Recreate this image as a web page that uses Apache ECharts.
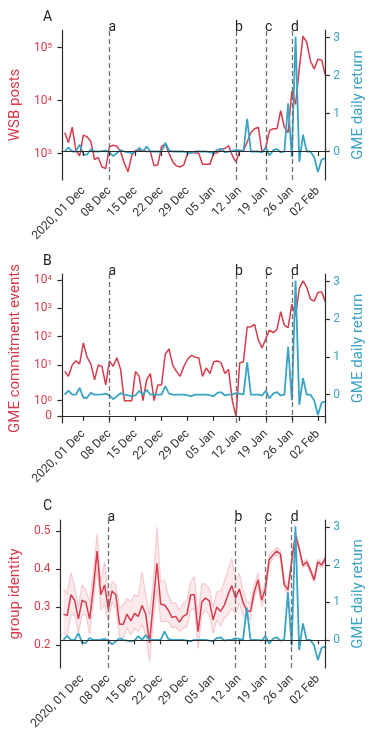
<!DOCTYPE html>
<html lang="en">
<head>
<meta charset="UTF-8">
<title>WSB / GME</title>
<script src="https://cdn.jsdelivr.net/npm/echarts@6/dist/echarts.min.js"></script>
<style>
  html, body { margin: 0; padding: 0; background: #fff; }
  #main { width: 374px; height: 744px; }
</style>
</head>
<body>
<div id="main"></div>
<script>
// days shown, one point each
const dates = [
  '2020-11-26','2020-11-27','2020-11-28','2020-11-29','2020-11-30',
  '2020-12-01','2020-12-02','2020-12-03','2020-12-04','2020-12-05','2020-12-06','2020-12-07',
  '2020-12-08','2020-12-09','2020-12-10','2020-12-11','2020-12-12','2020-12-13','2020-12-14',
  '2020-12-15','2020-12-16','2020-12-17','2020-12-18','2020-12-19','2020-12-20','2020-12-21',
  '2020-12-22','2020-12-23','2020-12-24','2020-12-25','2020-12-26','2020-12-27','2020-12-28',
  '2020-12-29','2020-12-30','2020-12-31','2021-01-01','2021-01-02','2021-01-03','2021-01-04',
  '2021-01-05','2021-01-06','2021-01-07','2021-01-08','2021-01-09','2021-01-10','2021-01-11',
  '2021-01-12','2021-01-13','2021-01-14','2021-01-15','2021-01-16','2021-01-17','2021-01-18',
  '2021-01-19','2021-01-20','2021-01-21','2021-01-22','2021-01-23','2021-01-24','2021-01-25',
  '2021-01-26','2021-01-27','2021-01-28','2021-01-29','2021-01-30','2021-01-31',
  '2021-02-01','2021-02-02','2021-02-03','2021-02-04'
];
const wsbPosts = [
  2510, 1620, 3160, 1150, 910,
  2240, 2090, 1700, 776, 851, 562, 525,
  1350, 1445, 1380, 1096, 661, 457, 933,
  1148, 1175, 1148, 1096, 1096, 589, 617,
  1380, 1514, 1023, 708, 589, 562, 617,
  1023, 1047, 1047, 1023, 631, 631, 631,
  1023, 1047, 1202, 1259, 1413, 933, 692,
  1148, 1148, 1660, 2510, 2950, 3160, 1050,
  1320, 2750, 2950, 2950, 6460, 3160, 2510,
  15140, 8510, 39810, 165960, 125890, 56230,
  39810, 60260, 58880, 30200
];
const commitEvents = [
  6, 4, 10, 14, 11,
  60, 19, 11, 3, 10, 9, 2,
  14, 9, 18, 7, 1, 1, 1,
  6, 4, 1, 3, 5, 1, 2,
  2, 24, 37, 10, 6, 4, 9,
  16, 22, 19, 18, 4, 8, 5,
  13, 14, 12, 5, 7, 1, 0,
  12, 13, 220, 220, 270, 76, 40,
  85, 170, 140, 180, 760, 250, 210,
  1400, 550, 5000, 9300, 5500, 2100,
  1800, 3600, 3800, 1700
];
const groupIdentity = [
  0.281, 0.277, 0.332, 0.318, 0.268,
  0.318, 0.312, 0.268, 0.350, 0.447, 0.332, 0.358,
  0.294, 0.342, 0.332, 0.254, 0.254, 0.281, 0.263,
  0.283, 0.275, 0.304, 0.281, 0.205, 0.310, 0.415,
  0.307, 0.305, 0.292, 0.272, 0.275, 0.260, 0.275,
  0.281, 0.332, 0.332, 0.235, 0.314, 0.323, 0.316,
  0.266, 0.300, 0.288, 0.305, 0.332, 0.356, 0.323,
  0.347, 0.312, 0.290, 0.288, 0.340, 0.371, 0.318,
  0.349, 0.425, 0.437, 0.447, 0.439, 0.360, 0.345,
  0.420, 0.491, 0.454, 0.409, 0.419, 0.397,
  0.371, 0.419, 0.410, 0.428
];
const identityLow = [
  0.235, 0.222, 0.279, 0.279, 0.231,
  0.279, 0.280, 0.226, 0.310, 0.402, 0.292, 0.305,
  0.261, 0.314, 0.296, 0.222, 0.218, 0.244, 0.226,
  0.244, 0.235, 0.253, 0.226, 0.156, 0.260, 0.349,
  0.261, 0.261, 0.261, 0.244, 0.248, 0.235, 0.244,
  0.248, 0.292, 0.296, 0.190, 0.279, 0.290, 0.279,
  0.230, 0.266, 0.250, 0.270, 0.280, 0.296, 0.280,
  0.310, 0.279, 0.268, 0.266, 0.323, 0.354, 0.300,
  0.332, 0.412, 0.426, 0.437, 0.429, 0.348, 0.333,
  0.410, 0.484, 0.447, 0.402, 0.412, 0.390,
  0.364, 0.412, 0.403, 0.421
];
const identityHigh = [
  0.347, 0.336, 0.391, 0.353, 0.300,
  0.358, 0.345, 0.314, 0.390, 0.494, 0.367, 0.419,
  0.323, 0.367, 0.358, 0.296, 0.305, 0.323, 0.314,
  0.332, 0.327, 0.393, 0.332, 0.279, 0.367, 0.511,
  0.367, 0.371, 0.332, 0.310, 0.310, 0.292, 0.310,
  0.318, 0.367, 0.380, 0.279, 0.362, 0.360, 0.349,
  0.300, 0.340, 0.340, 0.367, 0.397, 0.428, 0.367,
  0.389, 0.345, 0.314, 0.310, 0.358, 0.389, 0.336,
  0.367, 0.439, 0.448, 0.457, 0.449, 0.372, 0.357,
  0.430, 0.498, 0.461, 0.416, 0.426, 0.404,
  0.378, 0.426, 0.417, 0.435
];
const gmeReturn = [
  0, 0.11, 0, 0, 0.18,
  -0.08, -0.08, 0.05, 0, 0, 0.01, 0.03,
  -0.02, -0.12, -0.04, 0.04, 0, -0.02, -0.04,
  -0.02, 0.10, 0, 0.13, 0, 0, 0,
  0, 0.23, 0.03, 0, 0, 0, 0,
  -0.02, -0.04, 0, 0, 0, 0, -0.02,
  -0.04, 0.05, 0.07, -0.02, 0, 0.01, 0.04,
  0.03, 0, 0.86, 0, 0, 0, -0.02,
  0.10, -0.10, 0.03, 0.07, -0.02, 0, 1.27,
  -0.15, 3.03, -0.27, 0.44, 0, 0,
  -0.15, -0.54, -0.21, -0.18
];
const tickDates = ['2020-12-01','2020-12-08','2020-12-15','2020-12-22','2020-12-29',
                   '2021-01-05','2021-01-12','2021-01-19','2021-01-26','2021-02-02'];
const tickLabels = ['2020, 01 Dec','08 Dec','15 Dec','22 Dec','29 Dec',
                    '05 Jan','12 Jan','19 Jan','26 Jan','02 Feb'];
const eventDates = ['2020-12-08','2021-01-11','2021-01-19','2021-01-26'];
const eventLabels = ['a','b','c','d'];
const panelLabels = ['A','B','C'];
const leftNames = ['WSB posts','GME commitment events','group identity'];

const red = '#d63b4c', teal = '#3ba3c4', ink = '#2b2b2b';
const font = 'Roboto';
const DAY = 864e5;
const ts = s => { const p = s.split('-'); return Date.UTC(+p[0], +p[1] - 1, +p[2]); };
const xs = dates.map(ts);
const tickTs = tickDates.map(ts);
const pairs = arr => arr.map((v, i) => [xs[i], v]);

// matplotlib-like symlog (linthresh 2, linscale 1), in decades
const symlog = v => v <= 2 ? v / 1.8 : 1 / 0.9 + Math.log10(v / 2);
const symTicks = [0, 1, 10, 100, 1000, 10000];

const grids = [
  {left: 58, width: 269, top: 30, height: 150},
  {left: 58, width: 269, top: 274, height: 149},
  {left: 58, width: 269, top: 520, height: 148}
];

function nearest(list, v) {
  let k = 0;
  list.forEach((t, i) => { if (Math.abs(t - v) < Math.abs(list[k] - v)) k = i; });
  return k;
}
const supLabel = (exp) => '{b|10}{s|' + exp + '}';
const richRed = {
  b: {fontSize: 12, color: red, fontFamily: font},
  s: {fontSize: 8, color: red, fontFamily: font, verticalAlign: 'top', lineHeight: 8}
};

const axisLineStyle = {color: ink, width: 1.2};

const xAxes = grids.map((g, i) => ({
  type: 'value', gridIndex: i, z: 10,
  min: ts('2020-11-25') + 0.23 * DAY, max: ts('2021-02-04'),
  axisLine: {show: true, lineStyle: axisLineStyle},
  axisTick: {show: true, length: 4.5, lineStyle: axisLineStyle, customValues: tickTs},
  axisLabel: {
    customValues: tickTs, rotate: 45, margin: 9, fontSize: 12, color: '#333', fontFamily: font,
    formatter: v => tickLabels[nearest(tickTs, v)]
  },
  splitLine: {show: false}
}));

function leftAxis(i) {
  const base = {
    gridIndex: i, position: 'left', z: 10,
    name: leftNames[i], nameLocation: 'middle', nameGap: 36, nameRotate: 90,
    nameTextStyle: {color: red, fontSize: 15, fontFamily: font},
    axisLine: {show: true, lineStyle: axisLineStyle},
    axisTick: {show: true, length: 4.5, lineStyle: axisLineStyle},
    splitLine: {show: false}
  };
  if (i === 0) {
    return Object.assign(base, {
      type: 'log', logBase: 10, min: 319, max: 215800,
      axisTick: Object.assign({}, base.axisTick, {customValues: [1000, 10000, 100000]}),
      axisLabel: {customValues: [1000, 10000, 100000], margin: 10, rich: richRed,
        formatter: v => supLabel(Math.round(Math.log10(v)))}
    });
  }
  if (i === 1) {
    const pos = symTicks.map(symlog);
    return Object.assign(base, {
      type: 'value', min: -0.232, max: 5.02,
      axisTick: Object.assign({}, base.axisTick, {customValues: pos}),
      axisLabel: {customValues: pos, margin: 10, rich: richRed,
        formatter: v => { const k = nearest(pos, v); return k === 0 ? '{b|0}' : supLabel(k - 1); }}
    });
  }
  return Object.assign(base, {
    type: 'value', min: 0.139, max: 0.529,
    axisTick: Object.assign({}, base.axisTick, {customValues: [0.2, 0.3, 0.4, 0.5]}),
    axisLabel: {customValues: [0.2, 0.3, 0.4, 0.5], margin: 10, fontSize: 12, color: red, fontFamily: font,
      formatter: v => v.toFixed(1)}
  });
}

function rightAxis(i) {
  return {
    type: 'value', gridIndex: i, position: 'right', min: -0.75, max: 3.2, z: 10,
    name: 'GME daily return', nameLocation: 'middle', nameGap: 23, nameRotate: 90,
    nameTextStyle: {color: teal, fontSize: 15, fontFamily: font},
    axisLine: {show: true, lineStyle: axisLineStyle},
    axisTick: {show: true, length: 4.5, lineStyle: axisLineStyle, customValues: [0, 1, 2, 3]},
    axisLabel: {customValues: [0, 1, 2, 3], margin: 8, fontSize: 12, color: teal, fontFamily: font},
    splitLine: {show: false}
  };
}

const yAxes = [];
grids.forEach((g, i) => { yAxes.push(leftAxis(i)); yAxes.push(rightAxis(i)); });

const events = {
  silent: true, symbol: 'none', animation: false,
  lineStyle: {color: '#707070', type: [5, 3], width: 1.3},
  label: {show: true, position: 'end', formatter: '{b}', color: '#222', fontSize: 14,
          fontFamily: font, padding: [0, 0, 0, 6], distance: -4},
  data: eventDates.map((d, i) => ({xAxis: ts(d), name: eventLabels[i]}))
};

const redLine = (i, data) => ({
  type: 'line', xAxisIndex: i, yAxisIndex: i * 2, data: data,
  showSymbol: false, lineStyle: {color: red, width: 1.5}, itemStyle: {color: red}, z: 3
});
const tealLine = i => ({
  type: 'line', xAxisIndex: i, yAxisIndex: i * 2 + 1, data: pairs(gmeReturn),
  showSymbol: false, lineStyle: {color: teal, width: 1.8}, itemStyle: {color: teal}, z: 4,
  markLine: events
});

// confidence band: pink fill under the upper bound, then white fill under the lower bound
const series = [
  redLine(0, pairs(wsbPosts)),
  tealLine(0),
  redLine(1, pairs(commitEvents.map(symlog))),
  tealLine(1),
  {
    type: 'line', xAxisIndex: 2, yAxisIndex: 4, data: pairs(identityHigh),
    showSymbol: false, lineStyle: {color: 'rgba(214,59,76,0.22)', width: 1.2},
    areaStyle: {color: 'rgba(214,59,76,0.15)', origin: 'start'}, z: 1
  },
  {
    type: 'line', xAxisIndex: 2, yAxisIndex: 4, data: pairs(identityLow),
    showSymbol: false, lineStyle: {color: 'rgba(214,59,76,0.22)', width: 1.2},
    areaStyle: {color: '#fff', opacity: 1, origin: 'start'}, z: 1
  },
  redLine(2, pairs(groupIdentity)),
  tealLine(2)
];

const chart = echarts.init(document.getElementById('main'));
chart.setOption({
  animation: false,
  backgroundColor: '#fff',
  textStyle: {fontFamily: font},
  title: panelLabels.map((t, i) => ({
    text: t, left: 43, top: [10, 254, 499][i], padding: 0,
    textStyle: {fontSize: 14, fontWeight: 'normal', color: '#222', fontFamily: font}
  })),
  grid: grids,
  xAxis: xAxes,
  yAxis: yAxes,
  series: series
});
</script>
</body>
</html>
